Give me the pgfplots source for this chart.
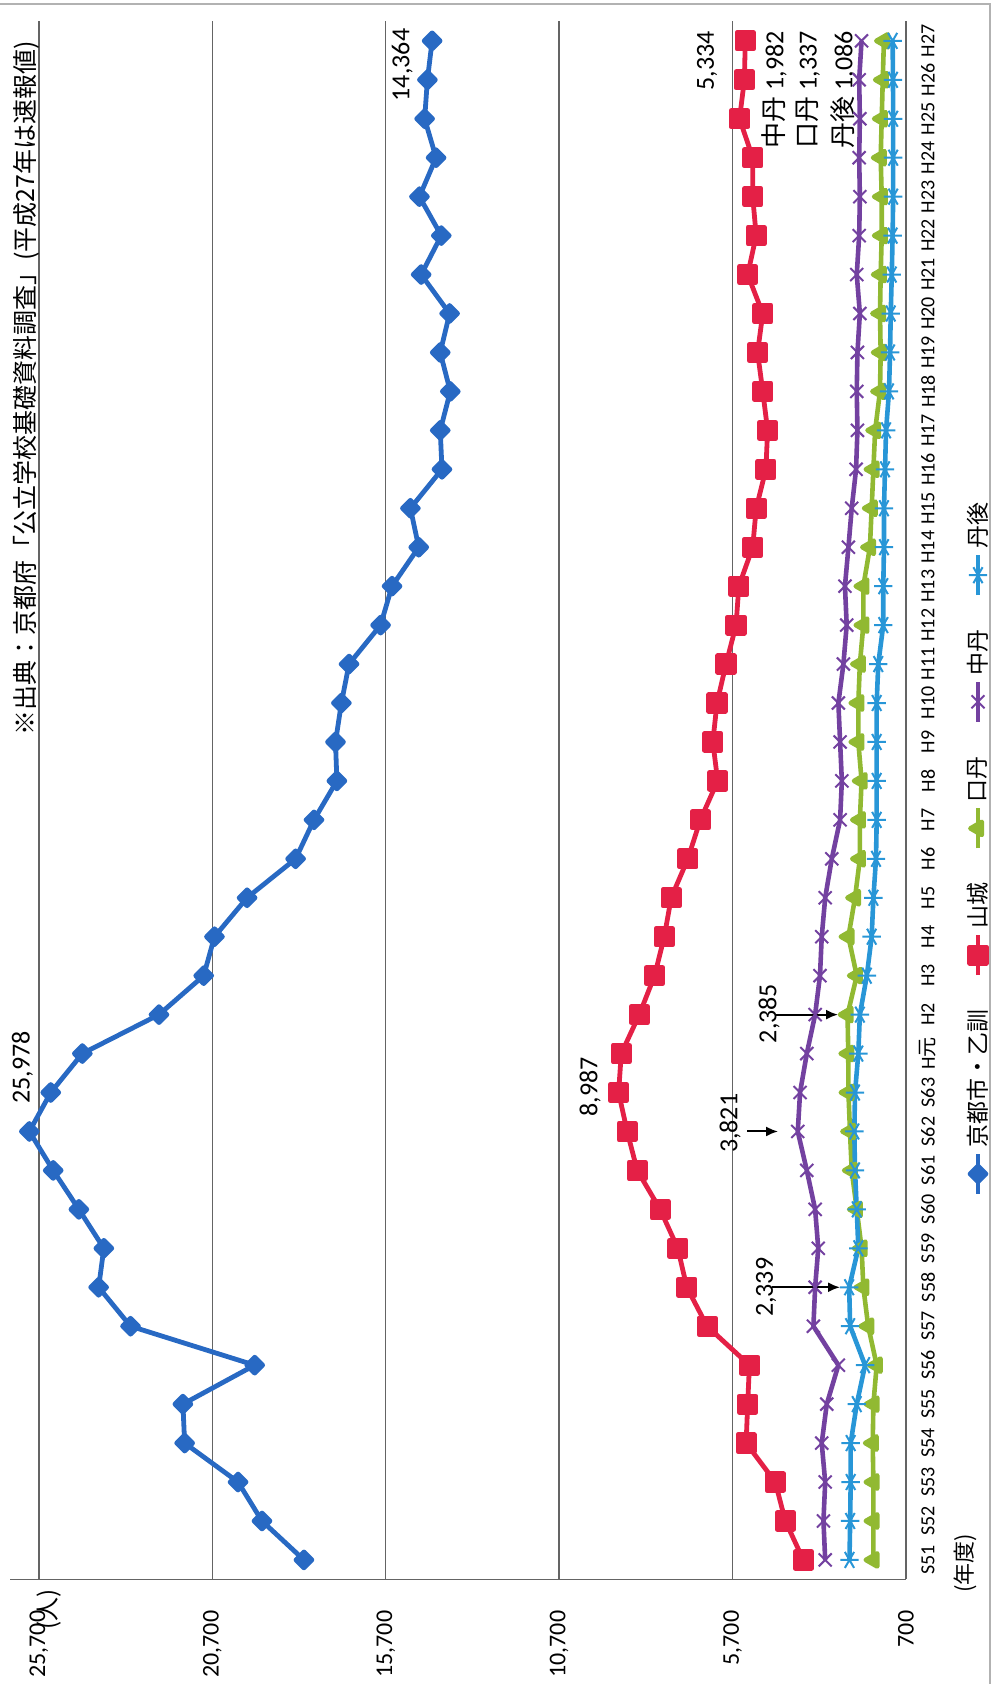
\documentclass[border=0pt]{standalone}
\usepackage{fontspec}
\setmainfont{Carlito}
\newfontfamily\jp{Noto Sans CJK JP}
\usepackage{pgfplots}
\usepackage{pgfplotstable}
\usetikzlibrary{arrows.meta}
\pgfplotsset{compat=1.18}

\definecolor{kyotoblue}{RGB}{40,105,195}
\definecolor{yamared}{RGB}{228,32,70}
\definecolor{kotangreen}{RGB}{145,185,50}
\definecolor{chutanpurple}{RGB}{115,65,160}
\definecolor{tangoblue}{RGB}{40,150,215}
\definecolor{gridgray}{RGB}{100,100,100}

% Students by region, S51 (i=0) to H27 (i=39)
\pgfplotstableread{
i  kyoto yama kotan chutan tango
0  18060 3660 1640 3030 2330
1  19270 4180 1640 3080 2310
2  19960 4470 1640 3030 2295
3  21500 5310 1660 3130 2295
4  21550 5265 1640 2985 2120
5  19480 5215 1545 2650 1880
6  23060 6435 1790 3370 2310
7  23980 7020 1930 3320 2339
8  23830 7280 1980 3230 2075
9  24550 7790 2120 3320 2120
10 25290 8450 2265 3560 2170
11 25978 8740 2315 3821 2190
12 25360 8987 2360 3755 2170
13 24450 8910 2365 3560 2075
14 22240 8390 2385 3320 2030
15 20950 7950 2120 3180 1830
16 20640 7670 2360 3130 1690
17 19700 7470 2170 3030 1640
18 18300 6990 2030 2840 1565
19 17770 6630 2030 2600 1545
20 17110 6130 1980 2550 1545
21 17150 6270 2075 2600 1545
22 16980 6150 2075 2650 1545
23 16760 5890 2030 2505 1500
24 15850 5600 1930 2410 1355
25 15520 5520 1930 2460 1355
26 14750 5120 1740 2360 1335
27 14990 5020 1690 2265 1335
28 14080 4740 1640 2140 1305
29 14130 4690 1590 2100 1275
30 13840 4830 1450 2120 1190
31 14130 4980 1430 2100 1160
32 13860 4830 1450 2030 1140
33 14680 5265 1430 2120 1110
34 14100 5020 1400 2050 1086
35 14730 5120 1400 2030 1070
36 14250 5120 1430 2050 1070
37 14580 5500 1400 2030 1070
38 14500 5360 1370 2050 1075
39 14364 5334 1337 1982 1086
}\students

\newcommand{\lbl}{\fontsize{13}{14}\selectfont}
\newcommand{\jplbl}{\jp\fontsize{12.5}{14}\selectfont}

\begin{document}
\rotatebox{90}{%
\begin{tikzpicture}
\useasboundingbox (0,0) rectangle (842pt,498.5pt);
\draw[black!30, line width=0.8pt] (0,3.5pt) -- (840pt,3.5pt) -- (840pt,498.5pt);
\begin{axis}[
  at={(52.3pt,45.5pt)}, anchor=south west,
  scale only axis, width=779pt, height=448pt,
  xmin=-0.5, xmax=39.5, ymin=700, ymax=26536,
  clip=false,
  axis lines*=left,
  axis line style={gridgray, line width=0.8pt},
  major tick length=0pt,
  ytick={700,5700,10700,15700,20700,25700},
  ymajorgrids,
  grid style={gridgray, line width=0.7pt},
  scaled y ticks=false,
  /pgf/number format/assume math mode=true,
  yticklabel style={font=\fontsize{12}{12}\selectfont, anchor=east, inner sep=0pt, xshift=-15.5pt,
    /pgf/number format/fixed, /pgf/number format/1000 sep={,}},
  xtick={0,...,39},
  xticklabels={S51,S52,S53,S54,S55,S56,S57,S58,S59,S60,S61,S62,S63,{H{\jp 元}},
    H2,H3,H4,H5,H6,H7,H8,H9,H10,H11,H12,H13,H14,H15,H16,H17,H18,H19,H20,
    H21,H22,H23,H24,H25,H26,H27},
  xticklabel style={font=\fontsize{10}{10}\selectfont, anchor=center, yshift=-11pt},
  legend columns=-1,
  legend style={draw=none, fill=none, at={(0.4697,0)}, anchor=center, yshift=-36pt,
    font=\jp\fontsize{11.5}{13}\selectfont,
    /tikz/every even column/.append style={column sep=14pt}},
  legend image code/.code={\draw[mark repeat=2, mark phase=2]
    plot coordinates {(0pt,0pt) (10pt,0pt) (20pt,0pt)};},
  every axis plot/.append style={line join=round},
]
\addplot[kyotoblue, line width=2.4pt, mark=square*, mark size=2.8pt,
  mark options={rotate=45, solid}] table[x=i, y=kyoto]{\students};
\addlegendentry{京都市・乙訓}
\addplot[yamared, line width=2.4pt, mark=square*, mark size=4.1pt]
  table[x=i, y=yama]{\students};
\addlegendentry{山城}
\addplot[kotangreen, line width=2.3pt, mark=triangle*, mark size=3.8pt]
  table[x=i, y=kotan]{\students};
\addlegendentry{口丹}
\addplot[chutanpurple, line width=2.3pt, mark=x, mark size=4.6pt,
  mark options={line width=1pt}] table[x=i, y=chutan]{\students};
\addlegendentry{中丹}
\addplot[tangoblue, line width=2.3pt, mark=asterisk, mark size=4.6pt,
  mark options={line width=1pt}] table[x=i, y=tango]{\students};
\addlegendentry{丹後}

% value labels
\node[font=\lbl] at (axis cs:12.65,26180) {25,978};
\node[font=\lbl] at (axis cs:38.38,15225) {14,364};
\node[font=\lbl] at (axis cs:38.49,6435) {5,334};
\node[font=\lbl] at (axis cs:12.14,9807) {8,987};
\node[font=\lbl] at (axis cs:11.21,5772) {3,821};
\draw[-{Latex[length=6pt,width=5pt]}, line width=1pt] (axis cs:11,5282) -- (axis cs:11,4389);
\node[font=\lbl] at (axis cs:14.03,4648) {2,385};
\draw[-{Latex[length=6pt,width=5pt]}, line width=1pt] (axis cs:14,4475) -- (axis cs:14,2660);
\node[font=\lbl] at (axis cs:7,4735) {2,339};
\draw[-{Latex[length=6pt,width=5pt]}, line width=1pt] (axis cs:7,4562) -- (axis cs:7,2602);

% latest values of the three northern regions
\node[anchor=east, font=\lbl] at (axis cs:39.43,4504) {{\jp 中丹} 1,982};
\node[anchor=east, font=\lbl] at (axis cs:39.43,3524) {{\jp 口丹} 1,337};
\node[anchor=east, font=\lbl] at (axis cs:39.43,2516) {{\jp 丹後} 1,086};

% source note and units
\node[anchor=east, font=\jplbl] at (axis cs:39.18,26062)
  {※出典：京都府「公立学校基礎資料調査」(平成27年は速報値)};
\node[font=\jp\fontsize{12}{12}\selectfont] at (axis cs:-1.28,25399) {(人)};
\node[font=\jp\fontsize{11}{12}\selectfont] at (axis cs:-0.08,-1000) {(年度)};
\end{axis}
\end{tikzpicture}}
\end{document}
